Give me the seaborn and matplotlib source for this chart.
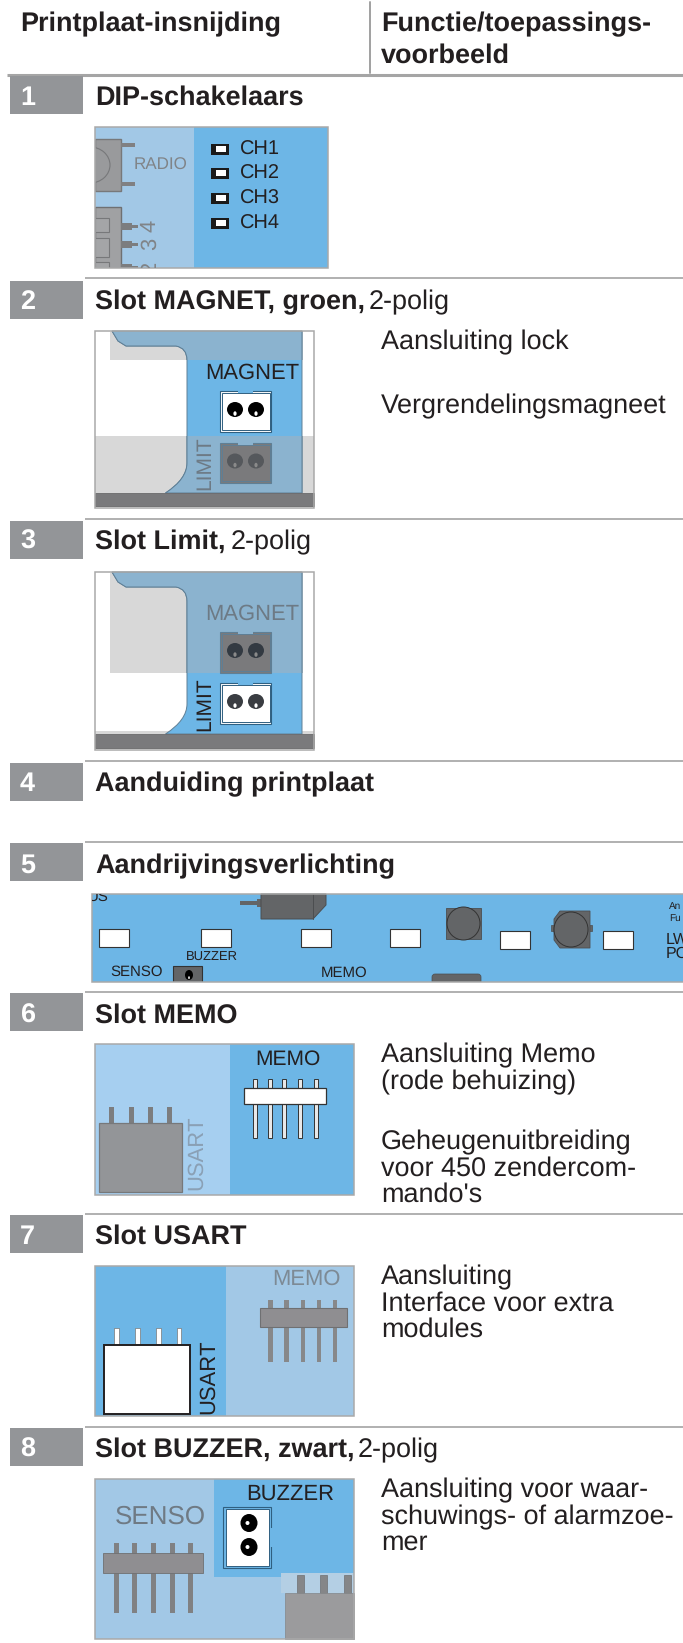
"""
Printplaat table: slots on the control board, drawn in image pixel coordinates.
"""
import matplotlib
matplotlib.use('Agg')
import matplotlib.pyplot as plt
import seaborn as sns
from matplotlib.patches import Rectangle, Ellipse, PathPatch, FancyBboxPatch
from matplotlib.path import Path

# text content
header_left = 'Printplaat-insnijding'
header_right = ['Functie/toepassings-', 'voorbeeld']
row_numbers = ['1', '2', '3', '4', '5', '6', '7', '8']
row_bold = ['DIP-schakelaars', 'Slot MAGNET, groen,', 'Slot Limit,', 'Aanduiding printplaat',
            'Aandrijvingsverlichting', 'Slot MEMO', 'Slot USART', 'Slot BUZZER, zwart,']
row_regular = ['', '2-polig', '2-polig', '', '', '', '', '2-polig']
desc_magnet = ['Aansluiting lock', 'Vergrendelingsmagneet']
desc_memo = ['Aansluiting Memo', '(rode behuizing)', 'Geheugenuitbreiding', 'voor 450 zendercom-', "mando's"]
desc_usart = ['Aansluiting', 'Interface voor extra', 'modules']
desc_buzzer = ['Aansluiting voor waar-', 'schuwings- of alarmzoe-', 'mer']
dip_labels = ['CH1', 'CH2', 'CH3', 'CH4']

# colours
BLUE = '#6db6e6'
LIGHT = '#a2c8e6'
LIGHT2 = '#a6cff0'
DIMBLUE = '#8bb3cf'
GREY = '#939598'
BAND = '#7a7a7c'
RULE = '#b0b0b0'
INK = '#231f20'
DIMTXT = '#6d7a85'
PANEL = '#a9a9a9'

sns.set_theme(style='white')
plt.rcParams['font.family'] = ['Liberation Sans', 'DejaVu Sans']
plt.rcParams['text.hinting'] = 'none'
plt.rcParams['text.hinting_factor'] = 1

fig = plt.figure(figsize=(6.83, 16.43), dpi=100)
ax = fig.add_axes([0, 0, 1, 1])
ax.set_xlim(0, 683)
ax.set_ylim(1643, 0)
ax.axis('off')


def rect(x0, y0, x1, y1, fc='none', ec='none', lw=0, z=2, clip=None):
    p = Rectangle((x0, y0), x1 - x0, y1 - y0, fc=fc, ec=ec, lw=lw, zorder=z)
    ax.add_patch(p)
    if clip is not None:
        p.set_clip_path(clip)
    return p


def label(x, y, s, size=19, color=INK, weight='normal', va='baseline', ha='left', rot=0, z=6, clip=None):
    t = ax.text(x, y, s, fontsize=size * 1.008, color=color, fontweight=weight, va=va, ha=ha,
                rotation=rot, zorder=z)
    if clip is not None:
        t.set_clip_on(True)
        t.set_clip_path(clip)
    return t


def frame(x0, y0, x1, y1):
    rect(x0, y0, x1, y1, ec=PANEL, lw=1.1, z=5)
    return Rectangle((x0, y0), x1 - x0, y1 - y0, transform=ax.transData)


def hole(x, y, color, dot='white', w=16, h=15):
    ax.add_patch(Ellipse((x, y), w, h, fc=color, ec='none', zorder=5))
    ax.add_patch(Ellipse((x, y + h * 0.27), w * 0.2, h * 0.3, fc=dot, ec='none', zorder=6))


def pins(xs, y0, y1, w, fc, ec='none', lw=0, z=3):
    for x in xs:
        rect(x - w / 2, y0, x + w / 2, y1, fc=fc, ec=ec, lw=lw, z=z)


def connector(x0, y0, x1, y1, fc, edge, hole_color, dot):
    rect(x0, y0, x1, y1, fc=fc, ec=edge, lw=0.8, z=4)
    rect(x0 + 1.5, y0 + 2, x1 - 1.5, y1 - 2, fc='none', ec=edge, lw=0.7, z=4)
    rect(x0 + 18, y0 - 1, x1 - 18, y0 + 2, fc=BLUE if fc == 'white' else DIMBLUE, z=4)
    hole(x0 + 15, (y0 + y1) / 2 - 2, hole_color, dot)
    hole(x0 + 36, (y0 + y1) / 2 - 2, hole_color, dot)


def board(top, band_y, color):
    # blue board outline with the cut-out on the left
    verts = [(112, top), (118, top + 10), (126, top + 15), (176, top + 15), (187, top + 17),
             (187, top + 29), (187, top + 132), (187, top + 148), (165.5, band_y), (302, band_y),
             (302, top), (112, top)]
    codes = [Path.MOVETO, Path.LINETO, Path.LINETO, Path.LINETO, Path.CURVE3,
             Path.CURVE3, Path.LINETO, Path.CURVE3, Path.CURVE3, Path.LINETO,
             Path.LINETO, Path.CLOSEPOLY]
    return PathPatch(Path(verts, codes), fc=color, ec='#5f7f95', lw=0.7, zorder=3)


def dimmed(top, band_y, y0, y1):
    # same outline in the greyed-out colour, only between y0 and y1
    part = board(top, band_y, DIMBLUE)
    part.set_zorder(3.2)
    ax.add_patch(part)
    part.set_clip_path(Rectangle((95, y0), 219, y1 - y0, transform=ax.transData))


# table header
label(20, 31.5, header_left, weight='bold')
label(381, 31.5, header_right[0], weight='bold')
label(381, 63, header_right[1], weight='bold')
ax.plot([370, 370], [2, 73], color='#a0a0a0', lw=1.4, zorder=2)
ax.plot([7, 683], [75, 75], color='#a5a5a5', lw=2.2, zorder=2, solid_capstyle='butt')

# row headings
rule_y = [278, 519, 761, 842, 992, 1214, 1427]
box_top = [76, 281, 521, 763, 843, 993, 1215, 1428]
base_y = [105, 309, 549, 791, 873, 1023, 1244, 1457]
reg_x = [0, 369, 231, 0, 0, 0, 0, 358]
for y in rule_y:
    ax.plot([85, 683], [y, y], color=RULE, lw=1.4, zorder=2, solid_capstyle='butt')
for i, num in enumerate(row_numbers):
    rect(9.5, box_top[i], 82.5, box_top[i] + 38, fc=GREY)
    label(20, base_y[i], num, color='white', weight='bold')
    label(95, base_y[i], row_bold[i], weight='bold')
    if row_regular[i]:
        label(reg_x[i], base_y[i], row_regular[i])

# 1: DIP switches
clip = frame(95, 126.5, 328, 268)
rect(95, 126.5, 194, 268, fc=LIGHT, z=1)
rect(194, 126.5, 328, 268, fc=BLUE, z=1)
rect(95, 139, 121, 191, fc='#999a9c', ec='#77787a', lw=1, clip=clip)
ax.add_patch(Ellipse((90, 165), 40, 36, fc='#999a9c', ec='#77787a', lw=0.8, zorder=3)).set_clip_path(clip)
for y in [145, 184]:
    rect(121, y - 2, 135, y + 2, fc='#808082')
label(134, 165, 'RADIO', size=12.2, color='#808488', va='center')
for y, name in zip([149, 173, 198, 223], dip_labels):
    rect(211, y - 5.5, 229, y + 5.5, fc='#1a1a1a')
    rect(216, y - 3, 226, y + 3, fc='white', z=3)
    label(240, y - 1, name, size=14.6, va='center_baseline')
rect(95, 207, 121, 268, fc='#a0a1a3', ec='#6f7072', lw=1, clip=clip)
for y0, y1 in [(218, 232), (238, 257), (262, 275)]:
    rect(95, y0, 109, y1, fc='#a4a5a7', ec='#77787a', lw=0.8, z=3, clip=clip)
for y, d in zip([226, 244, 267], ['4', '3', '2']):
    rect(121, y - 3.5, 132, y + 3.5, fc='#7c7d7f', clip=clip)
    rect(132, y - 1.5, 138, y + 1.5, fc='#7c7d7f', clip=clip)
    label(150, y, d, size=15.5, color='#808488', va='center', ha='center', rot=90, clip=clip)

# 2: MAGNET slot
frame(95, 331, 314, 508)
ax.add_patch(board(331, 493, BLUE))
rect(110, 332, 187, 360, fc='#d8d8d8', z=2)
rect(95, 436, 187, 493, fc='#d8d8d8', z=2)
rect(302, 436, 314, 493, fc='#d8d8d8', z=2)
dimmed(331, 493, 331, 360)
dimmed(331, 493, 436, 493)
rect(95, 493, 314, 506, fc=BAND, ec='#666668', lw=0.6, z=4)
label(205, 373, 'MAGNET', size=16, va='center')
connector(220, 391, 271, 432, 'white', '#2f5f80', 'black', 'white')
label(205, 463, 'LIMIT', size=15, color=DIMTXT, va='center', ha='center', rot=90)
connector(220, 443, 271, 483, BAND, '#5f7f95', '#55585c', '#8a8a8a')
for k, s in enumerate(desc_magnet):
    label(381, [349, 413][k], s)

# 3: LIMIT slot
frame(95, 572, 314, 750)
rect(95, 731, 314, 734, fc='#d8d8d8', z=1)
ax.add_patch(board(572, 734, BLUE))
rect(110, 573, 187, 673, fc='#d8d8d8', z=2)
dimmed(572, 734, 572, 673)
rect(95, 734, 314, 748, fc=BAND, ec='#666668', lw=0.6, z=4)
label(205, 614, 'MAGNET', size=16, color=DIMTXT, va='center')
connector(220, 632, 271, 673, BAND, '#5f7f95', '#333a42', '#8a8a8a')
label(205, 704, 'LIMIT', size=15, va='center', ha='center', rot=90)
connector(220, 683, 271, 724, 'white', '#2f5f80', '#3a3d42', 'white')

# 5: drive lighting strip
clip = frame(91.5, 894, 684, 982)
rect(91.5, 894, 684, 982, fc=BLUE, z=1)
ax.fill([261, 326, 326, 313, 261], [894, 894, 905, 919, 919], fc='#636567', ec='#4c4e50', lw=0.7, zorder=3)
ax.plot([313, 313], [894, 919], color='#4c4e50', lw=0.7, zorder=4)
rect(240, 901, 257, 905, fc='#636567')
rect(257, 899, 261, 907, fc='#636567')
for x, y in zip([99, 201, 301, 390, 500, 603], [929, 929, 929, 929, 931, 931]):
    rect(x, y, x + 30, y + 17.5, fc='white', ec='#333333', lw=0.8, z=3)
rect(446, 908, 481, 939, fc='#636567', ec='#4c4e50', lw=0.6)
ax.add_patch(Ellipse((463.5, 923.5), 33, 33, fc='#636567', ec='#333333', lw=0.7, zorder=4))
rect(551, 925, 592, 931, fc='#636567', ec='#4c4e50', lw=0.5)
ax.fill([560, 590, 590, 560, 554, 554], [911, 911, 948, 948, 940, 919], fc='#636567', ec='#4c4e50', lw=0.6, zorder=3)
ax.add_patch(Ellipse((571, 929.5), 34, 35, fc='#636567', ec='#333333', lw=0.7, zorder=4))
label(110, 972, 'SENSO', size=11, va='center')
label(186, 958, 'BUZZER', size=9.6, va='center')
label(320.6, 973, 'MEMO', size=11, va='center')
rect(173, 966, 202, 983, fc='#636567', ec='#333333', lw=0.8, clip=clip)
hole(189, 975, 'black', '#ffffff', 8, 10)
bump = FancyBboxPatch((432, 974), 49, 12, boxstyle='round,pad=0,rounding_size=3', fc='#636567', ec='#4c4e50', lw=0.5, zorder=3)
ax.add_patch(bump)
bump.set_clip_path(clip)
label(88, 900.7, 'US', size=11, clip=clip)
label(669, 906, 'An', size=7.5, va='center', clip=clip)
label(669, 918, 'Fu', size=7.5, va='center', clip=clip)
label(666, 940, 'LW', size=11.5, va='center', clip=clip)
label(666, 954, 'PO', size=11.5, va='center', clip=clip)

# 6: MEMO slot
frame(95, 1044, 354, 1195)
rect(95, 1044, 229.5, 1195, fc=LIGHT2, z=1)
rect(229.5, 1044, 354, 1195, fc=BLUE, z=1)
label(288, 1059, 'MEMO', size=15.3, va='center', ha='center')
pins([255, 270, 284, 300, 316], 1079, 1138, 3.2, '#e8e8e8', '#333333', 0.7)
rect(244, 1088, 326, 1104, fc='white', ec='#333333', lw=0.9, z=4)
pins([111, 131, 150, 169], 1107, 1124, 5, '#7c7d7f')
rect(99, 1123, 182, 1192, fc='#939598', ec='#77787a', lw=0.9, z=4)
label(196, 1153, 'USART', size=16, color='#8aa0b5', va='center', ha='center', rot=90)
for k, s in enumerate(desc_memo):
    label(381, [1062, 1089, 1149, 1176, 1202][k], s)

# 7: USART slot
frame(95, 1266, 354, 1416)
rect(95, 1266, 225.6, 1416, fc=BLUE, z=1)
rect(225.6, 1266, 354, 1416, fc=LIGHT, z=1)
label(306.5, 1279, 'MEMO', size=16, color='#7d8a95', va='center', ha='center')
pins([270.5, 286.6, 303, 319, 335], 1300, 1362, 4.5, '#87888a')
rect(259.6, 1308, 347, 1327, fc='#8f8e91', ec='#6f7072', lw=0.8, z=4)
pins([116.7, 137.6, 158.5, 179], 1328, 1346, 4.5, 'white', '#777777', 0.5)
rect(103.7, 1345, 190, 1414, fc='white', ec='#231f20', lw=1.4, z=4)
label(208, 1376.5, 'USART', size=16, va='center', ha='center', rot=90)
for k, s in enumerate(desc_usart):
    label(381, [1284, 1311, 1337][k], s)

# 8: BUZZER slot
frame(95, 1479, 354, 1639)
rect(95, 1479, 354, 1639, fc=LIGHT, z=1)
rect(214, 1479, 354, 1577, fc=BLUE, z=1)
label(290, 1494, 'BUZZER', size=16, va='center', ha='center')
label(160, 1517, 'SENSO', size=18.7, color='#6f7a84', va='center', ha='center')
rect(223, 1507, 271, 1568, fc='none', ec='#2f5f80', lw=0.8, z=3)
rect(269, 1528, 273, 1547, fc=BLUE, z=3)
rect(225.6, 1509, 268.7, 1566, fc='white', ec='#2f5f80', lw=0.7, z=4)
for y in [1523, 1547]:
    ax.add_patch(Ellipse((249, y), 17, 18, fc='black', ec='none', zorder=5))
    ax.add_patch(Ellipse((247.5, y), 4, 4, fc='white', ec='none', zorder=6))
pins([116, 134.6, 153, 172.5, 190], 1543, 1613, 5, '#808183')
rect(103, 1553, 203, 1573, fc='#8f8e91', ec='#6f7072', lw=0.6, z=4)
rect(281, 1573, 354, 1593, fc='#b4cfe4', z=2)
pins([300, 323, 347], 1575, 1593, 7, '#858688', '#6f7072', 0.5)
rect(284.5, 1593, 354, 1639, fc='#9b9b9d', ec='#858688', lw=0.5, z=4)
for k, s in enumerate(desc_buzzer):
    label(381, [1497, 1524, 1550][k], s)

plt.savefig('out.png', dpi=100)
